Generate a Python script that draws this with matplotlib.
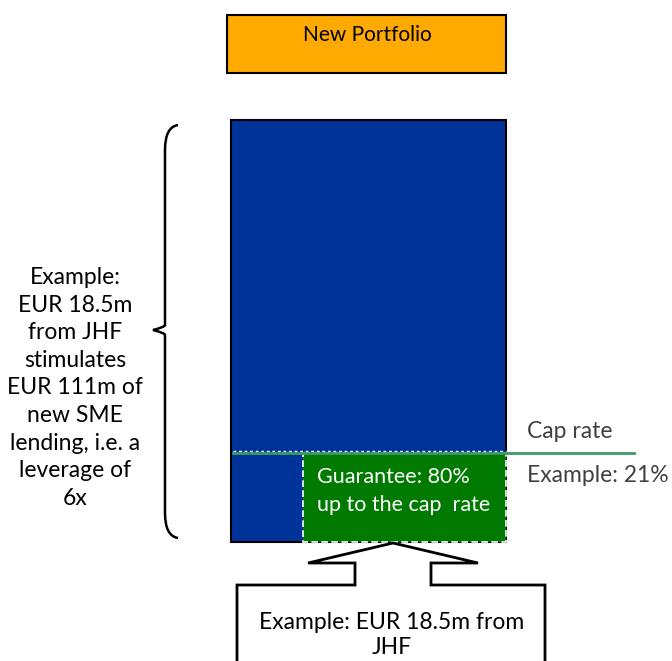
import matplotlib.pyplot as plt
from matplotlib.patches import Rectangle, Polygon
from matplotlib.path import Path
from matplotlib.patches import PathPatch

# values shown in the diagram
portfolio_total = 111.0      # EUR m of new SME lending
jhf_amount = 18.5            # EUR m from JHF
cap_rate = 0.21              # cap rate
guarantee_share = 0.80       # guarantee share
guarantee_draw = 0.74        # width of the green block as drawn

title_text = 'New Portfolio'
left_text = 'Example:\nEUR 18.5m\nfrom JHF\nstimulates\nEUR 111m of\nnew SME\nlending, i.e. a\nleverage of\n6x'
guar_text = 'Guarantee: 80%\nup to the cap  rate'
cap_label = 'Cap rate'
cap_example = 'Example: 21%'
callout_text = 'Example: EUR 18.5m from\nJHF'

plt.rcParams['font.family'] = ['Lato', 'DejaVu Sans']

fig = plt.figure(figsize=(6.72, 6.61), dpi=100)
ax = fig.add_axes([0, 0, 1, 1])
ax.set_xlim(0, 672)
ax.set_ylim(661, 0)
ax.axis('off')

# bar geometry (pixels), heights driven by the values
bx0, bx1 = 231, 506
by_top, by_bot = 120, 542
scale = (by_bot - by_top) / portfolio_total
cap_y = by_bot - cap_rate * portfolio_total * scale
gx0 = bx1 - guarantee_draw * (bx1 - bx0)

# header box
ax.add_patch(Rectangle((227, 15), 279, 58, facecolor='#FFAA00', edgecolor='black', lw=1.5))
ax.text(367, 35, title_text, ha='center', va='center', fontsize=15, color='black')

# portfolio bar
ax.add_patch(Rectangle((bx0, by_top), bx1 - bx0, by_bot - by_top,
                       facecolor='#003399', edgecolor='black', lw=1.5))
ax.add_patch(Rectangle((gx0, cap_y), bx1 - gx0, by_bot - cap_y,
                       facecolor='#007A00', edgecolor='white', lw=1.2, ls=(0, (4, 2))))
ax.plot([bx0 + 2, bx1], [cap_y - 2, cap_y - 2], color='white', lw=1, ls=(0, (2, 2)))
ax.plot([bx0 + 2, 634], [cap_y, cap_y], color='#3A9A6A', lw=2)

ax.text(317, 491, guar_text, ha='left', va='center', fontsize=15.5,
        color='white', linespacing=1.48)
ax.text(527, 431, cap_label, ha='left', va='center', fontsize=16.5, color='#404040')
ax.text(527, 476, cap_example, ha='left', va='center', fontsize=16.5, color='#404040')

# curly brace
top, bot, mid = 125, 538, 330
xr, xm, xl = 178, 165, 153
verts = [(xr, top), (xm, top + 2), (xm, top + 25), (xm, top + 50),
         (xm, mid - 40), (xm, mid - 5), (xm, mid - 3), (xl, mid),
         (xm, mid + 3), (xm, mid + 5), (xm, mid + 40),
         (xm, bot - 50), (xm, bot - 25), (xm, bot - 2), (xr, bot)]
codes = [Path.MOVETO, Path.CURVE3, Path.CURVE3, Path.LINETO,
         Path.LINETO, Path.LINETO, Path.CURVE3, Path.CURVE3,
         Path.CURVE3, Path.CURVE3, Path.LINETO,
         Path.LINETO, Path.LINETO, Path.CURVE3, Path.CURVE3]
ax.add_patch(PathPatch(Path(verts, codes), facecolor='none', edgecolor='black', lw=1.8))

ax.text(75, 388, left_text, ha='center', va='center', fontsize=16.5,
        color='black', linespacing=1.39)

# callout
tip = 393
callout = [(237, 670), (237, 585), (355, 585), (355, 563), (308, 563), (tip, by_bot + 1),
           (478, 563), (431, 563), (431, 585), (545, 585), (545, 670)]
ax.add_patch(Polygon(callout, closed=True, facecolor='white', edgecolor='black', lw=2))
ax.text(392, 635, callout_text, ha='center', va='center', fontsize=16.5,
        color='black', linespacing=1.28)

fig.savefig('out.png', dpi=100)
